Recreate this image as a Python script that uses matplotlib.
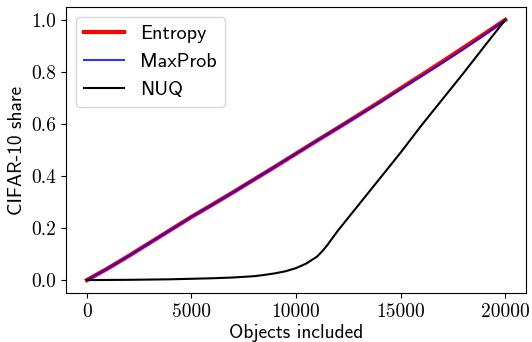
import matplotlib
matplotlib.use("Agg")
import matplotlib.pyplot as plt
from matplotlib.ticker import FormatStrFormatter

plt.rcParams['axes.formatter.use_mathtext'] = True

# share of CIFAR-10 objects among the first N included
x = [0, 1000, 2000, 3000, 4000, 5000, 6000, 7000, 8000, 9000, 10000,
     11000, 12000, 13000, 14000, 15000, 16000, 17000, 18000, 19000, 20000]
entropy = [0, 0.045, 0.093, 0.143, 0.193, 0.243, 0.29, 0.338, 0.387, 0.436, 0.486,
           0.536, 0.585, 0.635, 0.685, 0.737, 0.788, 0.84, 0.893, 0.946, 1.0]
maxprob = [0, 0.045, 0.093, 0.143, 0.193, 0.243, 0.29, 0.338, 0.387, 0.436, 0.486,
           0.536, 0.585, 0.634, 0.683, 0.734, 0.784, 0.835, 0.887, 0.942, 1.0]

x_nuq = [0, 1000, 2000, 3000, 4000, 5000, 6000, 7000, 8000, 8500, 9000, 9500,
         10000, 10500, 11000, 11300, 11500, 12000, 13000, 14000, 15000,
         16000, 17000, 18000, 19000, 20000]
nuq = [0, 0.0005, 0.001, 0.002, 0.003, 0.005, 0.007, 0.010, 0.015, 0.02, 0.026, 0.034,
       0.046, 0.064, 0.09, 0.115, 0.135, 0.19, 0.29, 0.39, 0.49,
       0.595, 0.695, 0.795, 0.898, 1.0]

fig, ax = plt.subplots(figsize=(5.32, 3.42), dpi=100)
ax.plot(x, entropy, color='red', lw=3, label='Entropy')
ax.plot(x, maxprob, color='blue', lw=1.5, alpha=0.8, label='MaxProb')
ax.plot(x_nuq, nuq, color='black', lw=1.5, label='NUQ')

ax.set_xlabel('Objects included', family='cmss10', fontsize=14, labelpad=2)
ax.set_ylabel('CIFAR-10 share', family='cmss10', fontsize=14)
ax.set_xticks([0, 5000, 10000, 15000, 20000])
ax.set_yticks([0.0, 0.2, 0.4, 0.6, 0.8, 1.0])
ax.xaxis.set_major_formatter(FormatStrFormatter('%d'))
ax.yaxis.set_major_formatter(FormatStrFormatter('%.1f'))
for lab in ax.get_xticklabels() + ax.get_yticklabels():
    lab.set_family('cmr10')
    lab.set_fontsize(14)

ax.legend(loc='upper left', prop={'family': 'cmss10', 'size': 14.5})

plt.subplots_adjust(left=0.124, right=0.989, top=0.98, bottom=0.143)
plt.savefig('out.png')
